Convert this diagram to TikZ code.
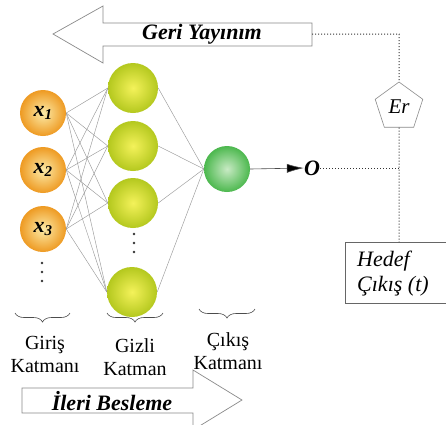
\documentclass[tikz,border=0pt]{standalone}
\usepackage{fontspec}
\setmainfont{Liberation Serif}
\usetikzlibrary{shapes.geometric,arrows.meta,decorations.pathreplacing}
\definecolor{arrowgray}{HTML}{8A8A8A}
\definecolor{linkgray}{HTML}{9A9A9A}
\definecolor{inOut}{HTML}{EE9A22}
\definecolor{inIn}{HTML}{FCEBA8}
\definecolor{hidOut}{HTML}{B4C81E}
\definecolor{hidIn}{HTML}{F4F25A}
\definecolor{outOut}{HTML}{4CB84E}
\definecolor{outIn}{HTML}{C8EAC4}
\begin{document}
\begin{tikzpicture}[x=1pt,y=-1pt,
  inputnode/.style={circle,minimum size=46pt,inner sep=0pt,shading=radial,inner color=inIn,outer color=inOut},
  hiddennode/.style={circle,minimum size=50pt,inner sep=0pt,shading=radial,inner color=hidIn,outer color=hidOut},
  outputnode/.style={circle,minimum size=46pt,inner sep=0pt,shading=radial,inner color=outIn,outer color=outOut},
  dotnode/.style={circle,fill=black!80,minimum size=2.6pt,inner sep=0pt},
  link/.style={draw=linkgray,line width=0.45pt},
  bigarrow/.style={draw=arrowgray,fill=white,line width=0.7pt},
  dotline/.style={draw=black!80,dotted,line width=1pt},
  brc/.style={draw=black!70,line width=0.6pt,decorate,decoration={brace,amplitude=9pt,mirror}},
  layerlabel/.style={align=center,font=\fontsize{20}{23}\selectfont,inner sep=0pt},
  xlabel/.style={font=\fontsize{22}{24}\selectfont\bfseries\itshape}
]
\clip (0,0) rectangle (446,424);
\fill[white] (0,0) rectangle (446,424);

% Geri Yayinim arrow
\draw[bigarrow] (53,34) -- (103,6) -- (103,23) -- (312,23) -- (312,46) -- (103,46) -- (103,63) -- cycle;
\node[font=\fontsize{22}{24}\selectfont\bfseries\itshape] (geri) at (202,34) {Geri Yayınım};
\coordinate (geriEnd) at (312,34);
\coordinate (corner) at (399,34);

% Ileri Besleme arrow
\draw[bigarrow] (22,388) -- (193,388) -- (193,370) -- (242,400) -- (193,430) -- (193,413) -- (22,413) -- cycle;
\node[font=\fontsize{22}{24}\selectfont\bfseries\itshape] (ileri) at (112,401) {İleri Besleme};

% nodes
\node[inputnode] (x1) at (43,113) {};
\node[inputnode] (x2) at (43,170) {};
\node[inputnode] (x3) at (43,229) {};
\node[xlabel] (x1t) at (x1) {x\textsubscript{\fontsize{15}{15}\selectfont 1}};
\node[xlabel] (x2t) at (x2) {x\textsubscript{\fontsize{15}{15}\selectfont 2}};
\node[xlabel] (x3t) at (x3) {x\textsubscript{\fontsize{15}{15}\selectfont 3}};
\node[hiddennode] (h1) at (133,88) {};
\node[hiddennode] (h2) at (133,146) {};
\node[hiddennode] (h3) at (133,203) {};
\node[hiddennode] (h4) at (132,292) {};
\node[outputnode] (o) at (227,169) {};

% dots
\node[dotnode] (di1) at (42,263) {};
\node[dotnode] (di2) at (42,272) {};
\node[dotnode] (di3) at (42,281) {};
\node[dotnode] (dh1) at (134,234) {};
\node[dotnode] (dh2) at (134,243) {};
\node[dotnode] (dh3) at (134,252) {};

% links
\foreach \i in {x1,x2,x3}{
  \foreach \h in {h1,h2,h3,h4}{
    \draw[link] (\i.east) -- (\h.west);
  }
}
\foreach \h in {h1,h2,h3,h4}{
  \draw[link] (\h.east) -- (o.west);
}

% output arrow
\node[font=\fontsize{22}{24}\selectfont\bfseries\itshape,inner sep=0pt] (out) at (312,168) {O};
\draw[draw=black!70,line width=0.6pt,-{Latex[length=17pt,width=9pt,fill=black]}] (o.east) -- (out.west);

% Er pentagon
\node[regular polygon,regular polygon sides=5,draw=arrowgray,line width=0.6pt,minimum size=50pt,inner sep=0pt,font=\fontsize{21}{22}\selectfont\itshape] (er) at (399,107) {Er};

% Hedef box
\node[align=left,anchor=north west,font=\fontsize{22}{25}\selectfont\itshape,inner sep=0pt] (hedef) at (357,251) {Hedef\\Çıkış (t)};
\coordinate (boxTL) at (345,242);
\coordinate (boxTR) at (446,242);
\coordinate (boxBL) at (345,303);
\coordinate (boxBR) at (446,303);
\coordinate (boxTop) at (399,242);
\coordinate (join) at (399,168);
\draw[draw=black!60,line width=0.6pt] (boxTR) -- (boxTL) -- (boxBL) -- (boxBR);

% dotted connectors
\draw[dotline] (geriEnd) -- (corner) -- (er.north);
\draw[dotline] (er.south) -- (boxTop);
\draw[dotline] (out.east) -- (join);

% braces
\draw[brc] (15,313) -- (70,313);
\draw[brc] (107,313) -- (163,313);
\draw[brc] (199,309) -- (255,309);

\node[layerlabel] (lin) at (45,354) {Giriş\\Katmanı};
\node[layerlabel] (lhid) at (135,357) {Gizli\\Katman};
\node[layerlabel] (lout) at (228,351) {Çıkış\\Katmanı};
\end{tikzpicture}
\end{document}
